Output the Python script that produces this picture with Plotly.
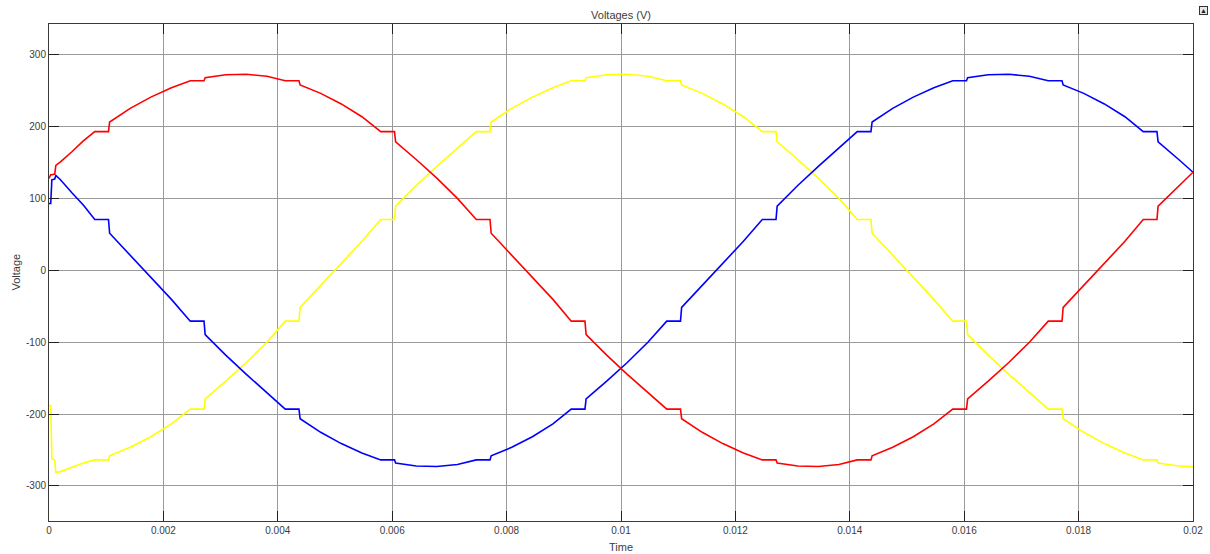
import plotly.graph_objects as go

# ---- data ----
time_s = [0, 0.00003, 0.00005, 0.0001, 0.00012, 0.0002, 0.0004, 0.0006,
          0.00080, 0.00104, 0.00106, 0.00142, 0.00178, 0.00214,
          0.00247, 0.00271, 0.00273, 0.00309, 0.00345, 0.00381,
          0.00413, 0.00437, 0.00439, 0.00475, 0.00511, 0.00547,
          0.00580, 0.00604, 0.00606, 0.00642, 0.00678, 0.00714,
          0.00747, 0.00771, 0.00773, 0.00809, 0.00845, 0.00881,
          0.00913, 0.00937, 0.00939, 0.00975, 0.01011, 0.01047,
          0.01080, 0.01104, 0.01106, 0.01142, 0.01178, 0.01214,
          0.01247, 0.01271, 0.01273, 0.01309, 0.01345, 0.01381,
          0.01413, 0.01437, 0.01439, 0.01475, 0.01511, 0.01547,
          0.01580, 0.01604, 0.01606, 0.01642, 0.01678, 0.01714,
          0.01747, 0.01771, 0.01773, 0.01809, 0.01845, 0.01881,
          0.01913, 0.01937, 0.01939, 0.01975, 0.02000]

voltage_red = [128, 133, 133, 134, 146, 151, 165, 180,
               193.0, 193.0, 206.4, 225.3, 241.0, 254.0,
               263.7, 263.7, 268.1, 272.2, 272.8, 270.0,
               263.7, 263.7, 258.0, 246.2, 231.5, 213.7,
               193.0, 193.0, 178.7, 154.2, 128.2, 100.1,
               70.7, 70.7, 51.6, 20.9, -9.5, -40.4,
               -70.7, -70.7, -89.3, -118.0, -144.7, -169.9,
               -193.0, -193.0, -206.4, -225.3, -241.0, -254.0,
               -263.7, -263.7, -268.1, -272.2, -272.8, -270.0,
               -263.7, -263.7, -258.0, -246.2, -231.5, -213.7,
               -193.0, -193.0, -178.7, -154.2, -128.2, -100.1,
               -70.7, -70.7, -51.6, -20.9, 9.5, 40.4,
               70.7, 70.7, 89.3, 118.0, 136.5]

voltage_yellow = [-188, -188, -262, -264, -281, -280, -274, -268,
                  -263.7, -263.7, -258.0, -246.2, -231.5, -213.7,
                  -193.0, -193.0, -178.7, -154.2, -128.2, -100.1,
                  -70.7, -70.7, -51.6, -20.9, 9.5, 40.4,
                  70.7, 70.7, 89.3, 118.0, 144.7, 169.9,
                  193.0, 193.0, 206.4, 225.3, 241.0, 254.0,
                  263.7, 263.7, 268.1, 272.2, 272.8, 270.0,
                  263.7, 263.7, 258.0, 246.2, 231.5, 213.7,
                  193.0, 193.0, 178.7, 154.2, 128.2, 100.1,
                  70.7, 70.7, 51.6, 20.9, -9.5, -40.4,
                  -70.7, -70.7, -89.3, -118.0, -144.7, -169.9,
                  -193.0, -193.0, -206.4, -225.3, -241.0, -254.0,
                  -263.7, -263.7, -268.1, -272.2, -273.0]

voltage_blue = [93, 93, 126, 127, 132, 126, 108, 91,
                70.7, 70.7, 51.6, 20.9, -9.5, -40.4,
                -70.7, -70.7, -89.3, -118.0, -144.7, -169.9,
                -193.0, -193.0, -206.4, -225.3, -241.0, -254.0,
                -263.7, -263.7, -268.1, -272.2, -272.8, -270.0,
                -263.7, -263.7, -258.0, -246.2, -231.5, -213.7,
                -193.0, -193.0, -178.7, -154.2, -128.2, -100.1,
                -70.7, -70.7, -51.6, -20.9, 9.5, 40.4,
                70.7, 70.7, 89.3, 118.0, 144.7, 169.9,
                193.0, 193.0, 206.4, 225.3, 241.0, 254.0,
                263.7, 263.7, 268.1, 272.2, 272.8, 270.0,
                263.7, 263.7, 258.0, 246.2, 231.5, 213.7,
                193.0, 193.0, 178.7, 154.2, 136.5]

x_tick_vals = [0, 0.002, 0.004, 0.006, 0.008, 0.01, 0.012, 0.014, 0.016, 0.018, 0.02]
x_tick_text = ["0", "0.002", "0.004", "0.006", "0.008", "0.01", "0.012", "0.014", "0.016", "0.018", "0.02"]
y_tick_vals = [-300, -200, -100, 0, 100, 200, 300]
y_tick_text = ["-300", "-200", "-100", "0", "100", "200", "300"]

FONT = "Liberation Sans, Arial, sans-serif"
TXT = "#3c3c3c"

fig = go.Figure()
for vals, col in [(voltage_yellow, "#ffff00"), (voltage_blue, "#0000ff"), (voltage_red, "#ff0000")]:
    fig.add_trace(go.Scatter(x=time_s, y=vals, mode="lines",
                             line=dict(color=col, width=1.6), showlegend=False,
                             hoverinfo="skip"))

axis_common = dict(showgrid=True, gridcolor="#9a9a9a", gridwidth=1,
                   showline=True, linecolor="#3a3a3a", linewidth=1, mirror="ticks",
                   ticks="inside", ticklen=10, tickcolor="#222222", tickwidth=1,
                   zeroline=False, automargin=False,
                   tickfont=dict(family=FONT, size=10, color=TXT))

fig.update_layout(
    width=1210, height=554,
    margin=dict(l=49, r=17, t=24, b=33),
    paper_bgcolor="white", plot_bgcolor="white",
    xaxis=dict(range=[0, 0.02], tickvals=x_tick_vals, ticktext=x_tick_text, **axis_common),
    yaxis=dict(range=[-348.7, 342.7], tickvals=y_tick_vals, ticktext=y_tick_text, **axis_common),
    title=dict(text="Voltages (V)", x=0.5, xref="paper", y=1 - 15 / 554, yref="container",
               xanchor="center", yanchor="middle", font=dict(family=FONT, size=11, color=TXT)),
    annotations=[
        dict(text="Time", xref="paper", yref="paper", x=0.5, y=0, yshift=-26,
             showarrow=False, xanchor="center", yanchor="middle",
             font=dict(family=FONT, size=11, color=TXT)),
        dict(text="Voltage", xref="paper", yref="paper", x=0, y=0.5, xshift=-34,
             showarrow=False, xanchor="center", yanchor="middle", textangle=-90,
             font=dict(family=FONT, size=11, color=TXT)),
        dict(text="▲", xref="paper", yref="paper", x=1, y=1, xshift=10, yshift=14,
             showarrow=False, xanchor="center", yanchor="middle",
             bordercolor="#333333", borderwidth=1, borderpad=0, bgcolor="#e8e8e8",
             font=dict(family=FONT, size=7, color="#222222")),
    ],
)

fig.write_html("out.html", config={"displayModeBar": False},
               post_script="document.body.style.margin='0';document.body.style.padding='0';")
